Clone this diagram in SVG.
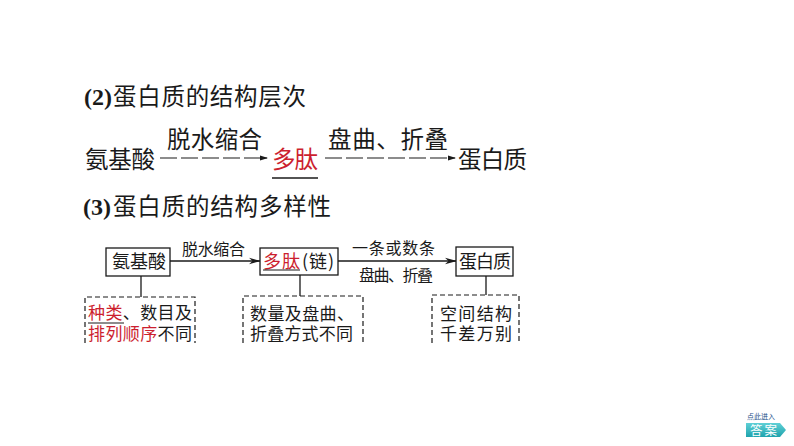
<svg xmlns="http://www.w3.org/2000/svg" width="794" height="446" viewBox="0 0 794 446">
<style>
.cn{font-family:"Noto Sans CJK SC","Noto Sans",sans-serif;fill:#1a1a1a}
.num{font-family:"Liberation Serif",serif;font-weight:bold;fill:#1a1a1a}
.red{fill:#cc1f2f}
.box{fill:#fff;stroke:#1a1a1a;stroke-width:1.3}
.dash{fill:none;stroke:#1a1a1a;stroke-width:1.2;stroke-dasharray:5 3}
.ln{fill:none;stroke:#1a1a1a;stroke-width:1.3}
.dl{fill:none;stroke:#1a1a1a;stroke-width:1.2;stroke-dasharray:17 4}
</style>
<defs>
<marker id="ah" markerWidth="12" markerHeight="8" refX="11" refY="4" orient="auto" markerUnits="userSpaceOnUse">
<path d="M0,0.8 L12,4 L0,7.2 L3.5,4 Z" fill="#1a1a1a"/>
</marker>
<marker id="ah2" markerWidth="8" markerHeight="6" refX="7" refY="3" orient="auto" markerUnits="userSpaceOnUse">
<path d="M0,0.5 L8,3 L0,5.5 Z" fill="#1a1a1a"/>
</marker>
<linearGradient id="btn" x1="0" y1="0" x2="0" y2="1">
<stop offset="0" stop-color="#5fd0d6"/>
<stop offset="1" stop-color="#1fa3ad"/>
</linearGradient>
</defs>
<rect width="794" height="446" fill="#fff"/>

<g id="title2">
<text class="num" x="84" y="105" font-size="24">(2)</text>
<text class="cn" x="113" y="105" font-size="23.5" textLength="193" lengthAdjust="spacing">蛋白质的结构层次</text>
</g>

<g id="flow1">
<g id="n-aa1"><text class="cn" x="85" y="168" font-size="23.5" textLength="70" lengthAdjust="spacing">氨基酸</text></g>
<g id="n-pep1"><text class="cn red" x="272" y="168" font-size="23.5" textLength="46" lengthAdjust="spacing">多肽</text>
<line x1="272" y1="178" x2="318" y2="178" stroke="#1a1a1a" stroke-width="1.5"/></g>
<g id="n-pro1"><text class="cn" x="458" y="168" font-size="23.5" textLength="69" lengthAdjust="spacing">蛋白质</text></g>
<g id="c-flow1">
<line class="dl" x1="160" y1="158" x2="267" y2="158" marker-end="url(#ah2)"/>
<line class="dl" x1="325" y1="158" x2="455" y2="158" marker-end="url(#ah2)"/>
<text class="cn" x="167" y="148" font-size="23.5" textLength="95" lengthAdjust="spacing">脱水缩合</text>
<text class="cn" x="328" y="148" font-size="23.5" textLength="120" lengthAdjust="spacing">盘曲、折叠</text>
</g>
</g>

<g id="title3">
<text class="num" x="83" y="215" font-size="24">(3)</text>
<text class="cn" x="113" y="215" font-size="23.5" textLength="218" lengthAdjust="spacing">蛋白质的结构多样性</text>
</g>

<g id="connectors">
<line class="ln" x1="170" y1="261" x2="260" y2="261" marker-end="url(#ah)"/>
<line class="ln" x1="338" y1="261" x2="456" y2="261" marker-end="url(#ah)"/>
<line class="ln" x1="141" y1="276" x2="141" y2="297"/>
<line class="ln" x1="300" y1="275" x2="300" y2="296"/>
<line class="ln" x1="486" y1="276" x2="486" y2="295"/>
<text class="cn" x="182" y="255" font-size="16" textLength="63" lengthAdjust="spacing">脱水缩合</text>
<text class="cn" x="352" y="254" font-size="16" textLength="83" lengthAdjust="spacing">一条或数条</text>
<text class="cn" x="359" y="281" font-size="16" textLength="74" lengthAdjust="spacing">盘曲、折叠</text>
</g>

<g id="box-aa">
<rect class="box" x="106" y="248" width="64" height="28"/>
<text class="cn" x="112" y="268" font-size="18" textLength="54" lengthAdjust="spacing">氨基酸</text>
</g>
<g id="box-pep">
<rect class="box" x="260" y="248" width="78" height="27"/>
<text class="cn red" x="263" y="268" font-size="18" textLength="37" lengthAdjust="spacing">多肽</text>
<line x1="263" y1="270" x2="300" y2="270" stroke="#1a1a1a" stroke-width="1"/>
<text class="cn" x="302" y="268" font-size="18" textLength="32" lengthAdjust="spacing">(链)</text>
</g>
<g id="box-pro">
<rect class="box" x="456" y="247" width="57" height="29"/>
<text class="cn" x="459" y="268" font-size="18" textLength="52" lengthAdjust="spacing">蛋白质</text>
</g>

<g id="d-aa">
<path class="dash" d="M85,343 V297 H195 V343"/>
<text class="cn" x="88" y="319" font-size="17" textLength="104" lengthAdjust="spacing"><tspan class="red">种类</tspan>、数目及</text>
<line x1="88" y1="323" x2="124" y2="323" stroke="#1a1a1a" stroke-width="1"/>
<text class="cn" x="88" y="340" font-size="17" textLength="104" lengthAdjust="spacing"><tspan class="red">排列顺序</tspan>不同</text>
</g>
<g id="d-pep">
<path class="dash" d="M243,343 V296 H363 V343"/>
<text class="cn" x="250" y="320" font-size="17" textLength="104" lengthAdjust="spacing">数量及盘曲、</text>
<text class="cn" x="250" y="340" font-size="17" textLength="103" lengthAdjust="spacing">折叠方式不同</text>
</g>
<g id="d-pro">
<path class="dash" d="M432,343 V295 H519 V343"/>
<text class="cn" x="440" y="320" font-size="17" textLength="72" lengthAdjust="spacing">空间结构</text>
<text class="cn" x="440" y="340" font-size="17" textLength="72" lengthAdjust="spacing">千差万别</text>
</g>

<g id="answer-btn">
<text x="747" y="419" font-family="'Noto Sans CJK SC',sans-serif" font-size="7" fill="#1b4f8a" textLength="28" lengthAdjust="spacing">点此进入</text>
<path d="M746,423 H780 L786,430 L780,437 H746 Z" fill="url(#btn)"/>
<text x="750" y="435" font-family="'Noto Sans CJK SC',sans-serif" font-size="12.5" fill="#fff" textLength="27" lengthAdjust="spacing">答案</text>
</g>
</svg>
